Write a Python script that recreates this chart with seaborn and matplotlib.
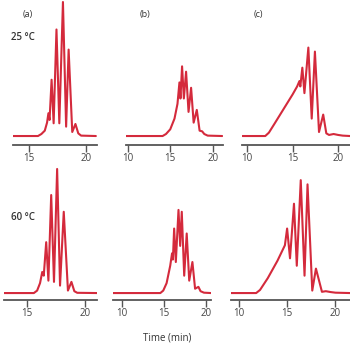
import matplotlib
matplotlib.use("Agg")
import matplotlib.pyplot as plt
import seaborn as sns
import pandas as pd

# ---- data ----
# Row 1: 25 °C
t_a25 = [13.6, 15.8, 16.1, 16.4, 16.6, 16.72, 16.82, 17.0, 17.18, 17.43, 17.68, 18.0, 18.28, 18.5, 18.82, 19.1, 19.35, 19.6, 20.9]
s_a25 = [0, 0, 1.5, 4, 10, 17, 12, 42, 9.5, 79.5, 9.5, 100, 7, 64.5, 3, 9, 2, 0.3, 0]

t_b25 = [9.7, 14.1, 14.5, 15.0, 15.5, 15.85, 16.08, 16.2, 16.39, 16.6, 16.86, 17.15, 17.45, 17.75, 18.12, 18.45, 18.75, 19.0, 19.4, 21.1]
s_b25 = [0, 0, 1.5, 5, 13, 24, 40, 28, 52, 28, 48, 18, 36, 10, 19.5, 4, 3.5, 1.5, 0.3, 0]

t_c25 = [9.5, 12.0, 12.4, 13.0, 14.0, 15.0, 15.5, 15.75, 15.85, 16.07, 16.3, 16.73, 17.1, 17.45, 17.9, 18.36, 18.7, 19.0, 19.5, 20.0, 20.5, 21.3]
s_c25 = [0, 0, 2.5, 9, 20, 31, 37, 41, 37, 51, 32, 66, 13, 63, 3, 16, 2, 0.8, 1.5, 0.8, 0.3, 0]

# Row 2: 60 °C
t_a60 = [13.0, 15.57, 15.85, 16.1, 16.29, 16.42, 16.63, 16.82, 17.06, 17.3, 17.57, 17.82, 18.14, 18.5, 18.8, 19.05, 19.3, 21.0]
s_a60 = [0, 0, 2, 8, 17, 14, 41, 10, 79, 9, 100, 6, 65.5, 2, 9, 1.5, 0.2, 0]

t_b60 = [8.9, 14.55, 14.9, 15.3, 15.73, 15.95, 16.05, 16.2, 16.4, 16.72, 16.92, 17.11, 17.4, 17.7, 18.0, 18.38, 18.7, 19.1, 19.35, 19.76, 20.6]
s_b60 = [0, 0, 2, 8, 22, 32, 27, 52, 25, 67, 38, 65.5, 14, 48, 10, 25, 3.5, 5, 1.5, 0.3, 0]

t_c60 = [9.2, 11.8, 12.2, 13.0, 14.0, 14.77, 15.0, 15.3, 15.71, 16.0, 16.41, 16.8, 17.11, 17.6, 17.98, 18.6, 19.0, 19.5, 20.0, 21.5]
s_c60 = [0, 0, 2.5, 12, 26, 38.5, 52, 28, 72, 22, 91, 14, 87.6, 2, 19.7, 1, 1.5, 0.8, 0.3, 0]

tick_vals = {"a": [15, 20], "b": [10, 15, 20], "c": [10, 15, 20]}
panel_labels = ["(a)", "(b)", "(c)"]
row_labels = ["25 °C", "60 °C"]
xlabel = "Time (min)"

# ---- layout (pixels) ----
W, H = 350, 348
line_color = "#d42a3c"
axis_color = "#555555"
text_color = "#333333"

sns.set_theme(style="white")
plt.rcParams["font.family"] = ["Open Sans", "DejaVu Sans"]

fig = plt.figure(figsize=(W / 100, H / 100), dpi=100)

rows = [
    dict(top=0, spine=145, ylim=(-6.7, 101.5),
         panels=[("a", t_a25, s_a25, 13, 97, (13.6, 21.0)),
                 ("b", t_b25, s_b25, 126, 223, (9.8, 21.2)),
                 ("c", t_c25, s_c25, 242, 350, (9.45, 21.3))]),
    dict(top=165, spine=300, ylim=(-5.6, 103.2),
         panels=[("a", t_a60, s_a60, 4, 97, (13.0, 21.0)),
                 ("b", t_b60, s_b60, 113, 211, (8.9, 20.6)),
                 ("c", t_c60, s_c60, 231, 350, (9.2, 21.5))]),
]

for r, row in enumerate(rows):
    for key, tt, ss, x0, x1, xl in row["panels"]:
        ax = fig.add_axes([x0 / W, 1 - row["spine"] / H, (x1 - x0) / W, (row["spine"] - row["top"]) / H])
        df = pd.DataFrame({"t": tt, "s": ss})
        sns.lineplot(data=df, x="t", y="s", ax=ax, color=line_color, linewidth=1.5,
                     estimator=None, sort=False)
        ax.set_xlim(*xl)
        ax.set_ylim(*row["ylim"])
        ax.set_facecolor("none")
        for sp in ["top", "right", "left"]:
            ax.spines[sp].set_visible(False)
        ax.spines["bottom"].set_color(axis_color)
        ax.spines["bottom"].set_linewidth(1.3)
        ax.set_yticks([])
        ax.set_xticks(tick_vals[key])
        ax.set_xticklabels([str(v) for v in tick_vals[key]])
        ax.tick_params(axis="x", direction="out", length=5, width=1.0, color=axis_color,
                       labelsize=7, labelcolor="#444444", pad=0.5, bottom=True)
        ax.set_xlabel("")
        ax.set_ylabel("")

# panel letters
for lbl, xp in zip(panel_labels, [28, 145, 258]):
    fig.text(xp / W, 1 - 14 / H, lbl, ha="center", va="center", fontsize=6.5, color=text_color)

# temperatures
fig.text(23 / W, 1 - 38 / H, row_labels[0], ha="center", va="center", fontsize=7,
         color=text_color, fontweight="semibold")
fig.text(23 / W, 1 - 218 / H, row_labels[1], ha="center", va="center", fontsize=7,
         color=text_color, fontweight="semibold")

fig.text(167 / W, 1 - 338 / H, xlabel, ha="center", va="center", fontsize=7, color=text_color)

fig.savefig("out.png", dpi=100)
